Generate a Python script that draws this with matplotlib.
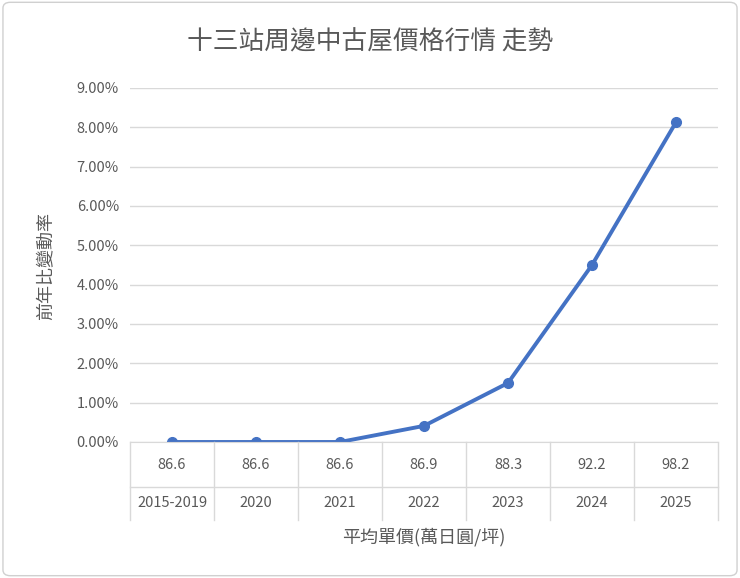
import matplotlib.pyplot as plt
from matplotlib.patches import FancyBboxPatch

plt.rcParams['font.family'] = ['Noto Sans CJK TC', 'DejaVu Sans']

years = ['2015-2019', '2020', '2021', '2022', '2023', '2024', '2025']
prices = ['86.6', '86.6', '86.6', '86.9', '88.3', '92.2', '98.2']
change = [0.0, 0.0, 0.0, 0.41, 1.50, 4.50, 8.13]

fig = plt.figure(figsize=(7.4, 5.78), dpi=100)
fig.patches.append(FancyBboxPatch((0.004, 0.004), 0.992, 0.992, boxstyle='round,pad=0,rounding_size=0.01',
                                  transform=fig.transFigure, fill=False, ec='#D0D0D0', lw=1))
ax = fig.add_axes([0.1757, 0.2353, 0.7946, 0.6125])

n = len(years)
x = [i + 0.5 for i in range(n)]
ax.plot(x, change, color='#4472C4', lw=2.8, marker='o', ms=7, solid_capstyle='round')
ax.set_xlim(0, n)
ax.set_ylim(0, 9)
ax.set_yticks(range(10))
ax.set_yticklabels([f'{v:.2f}%' for v in range(10)], color='#595959', fontsize=10.5)
ax.grid(axis='y', color='#D9D9D9', lw=1)
ax.set_axisbelow(True)
ax.set_xticks([])
ax.tick_params(axis='y', length=0, pad=8)
for s in ['top', 'right', 'left']:
    ax.spines[s].set_visible(False)
ax.spines['bottom'].set_color('#D9D9D9')

# category table below axis
for i in range(n + 1):
    ax.plot([i, i], [0, -0.22], transform=ax.get_xaxis_transform(), clip_on=False, color='#D9D9D9', lw=1)
ax.plot([0, n], [-0.127, -0.127], transform=ax.get_xaxis_transform(), clip_on=False, color='#D9D9D9', lw=1)
for i in range(n):
    ax.text(x[i], -0.065, prices[i], transform=ax.get_xaxis_transform(), ha='center', va='center',
            fontsize=10.5, color='#595959')
    ax.text(x[i], -0.172, years[i], transform=ax.get_xaxis_transform(), ha='center', va='center',
            fontsize=10.5, color='#595959')

fig.text(0.5, 1 - 42 / 578, '十三站周邊中古屋價格行情 走勢', ha='center', va='center', fontsize=18.5, color='#595959')
fig.text(0.572, 1 - 537 / 578, '平均單價(萬日圓/坪)', ha='center', va='center', fontsize=13, color='#595959')
fig.text(45 / 740, 0.5 + 0.04, '前年比變動率', ha='center', va='center', rotation=90, fontsize=13, color='#595959')

fig.savefig('out.png', dpi=100)
